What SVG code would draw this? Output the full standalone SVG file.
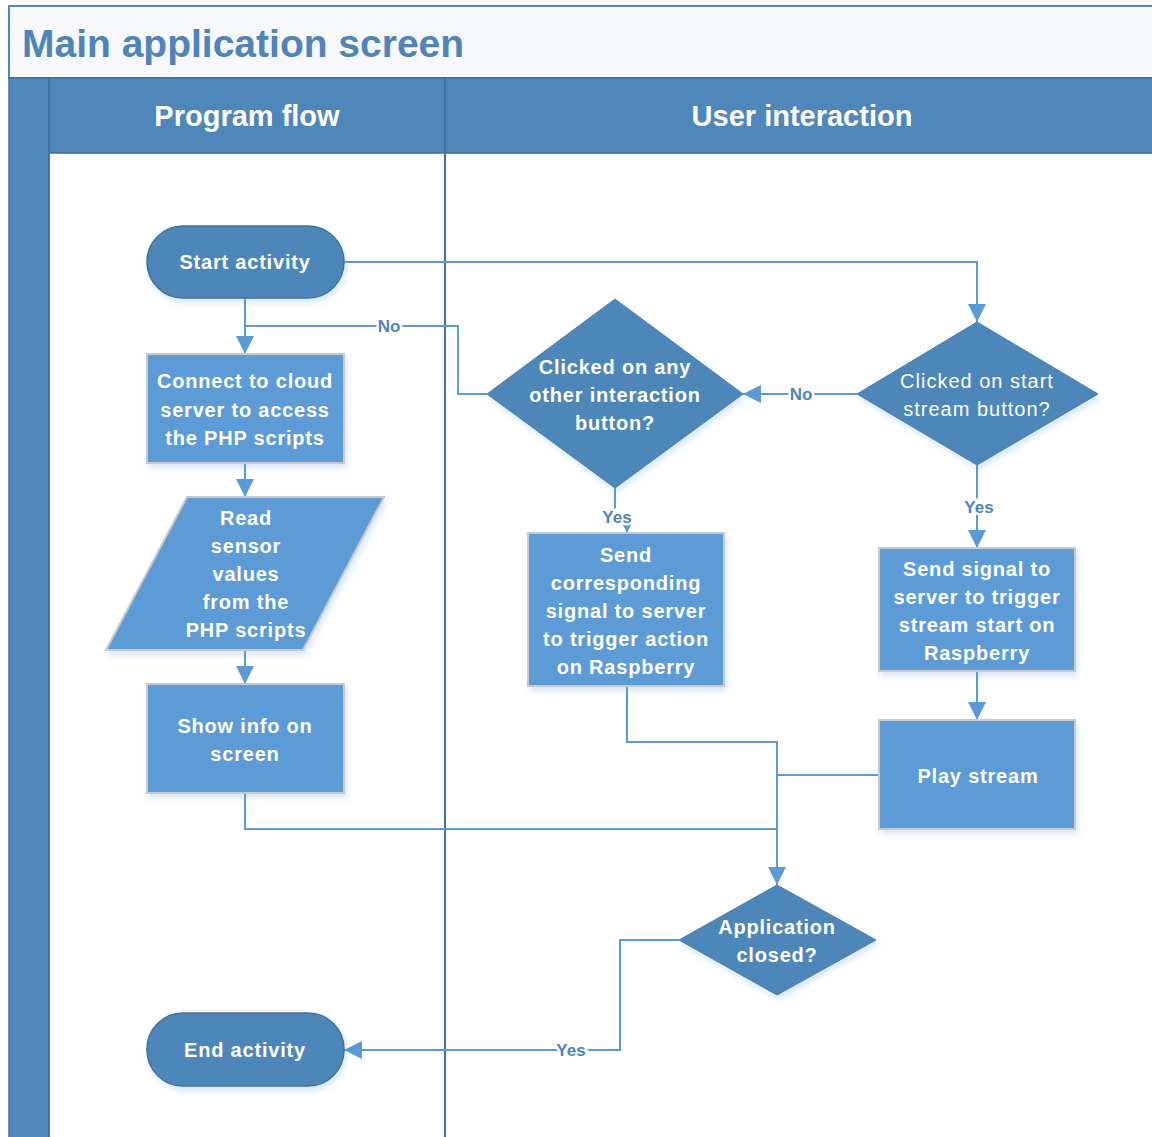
<svg xmlns="http://www.w3.org/2000/svg" width="1152" height="1137" viewBox="0 0 1152 1137">
<defs>
<style>
.lane{fill:#4f87bb;stroke:#41719c;stroke-width:1.5}
.term{fill:#4e86b8;stroke:#41719c;stroke-width:1.5}
.proc{fill:#5b9bd5;stroke:#c9c9c9;stroke-width:2}
.dec{fill:#4e86b8;stroke:#4a7fb0;stroke-width:1}
.t{font-family:"Liberation Sans",Arial,sans-serif;font-weight:bold;fill:#ffffff;text-anchor:middle;dominant-baseline:central;font-size:20px;letter-spacing:0.8px}
.tr{font-weight:normal;letter-spacing:1px}
.hdr{font-family:"Liberation Sans",Arial,sans-serif;font-weight:bold;fill:#ffffff;text-anchor:middle;dominant-baseline:central;font-size:29px}
.lbl{font-family:"Liberation Sans",Arial,sans-serif;font-weight:bold;fill:#4e84b8;text-anchor:middle;dominant-baseline:central;font-size:17px;stroke:#ffffff;stroke-width:5;paint-order:stroke}
.c{fill:none;stroke:#5b9bd5;stroke-width:2}
</style>
<marker id="arr" viewBox="0 0 10 10" refX="10" refY="5" markerWidth="10" markerHeight="10" markerUnits="userSpaceOnUse" orient="auto">
<path d="M0,0 L10,5 L0,10 z" fill="#5b9bd5"/>
</marker>
<marker id="arrBig" viewBox="0 0 10 10" refX="10" refY="5" markerWidth="18" markerHeight="18" markerUnits="userSpaceOnUse" orient="auto">
<path d="M0,0 L10,5 L0,10 z" fill="#5b9bd5"/>
</marker>
<filter id="sh" x="-10%" y="-10%" width="130%" height="130%">
<feDropShadow dx="2" dy="4" stdDeviation="3" flood-color="#5b9bd5" flood-opacity="0.25"/>
</filter>
</defs>
<rect width="1152" height="1137" fill="#ffffff"/>

<g id="pool">
<rect x="9" y="6" width="1150" height="72" fill="#f6f8fc" stroke="#4f87bb" stroke-width="2"/>
<text x="22" y="43" font-family="Liberation Sans, Arial, sans-serif" font-weight="bold" font-size="39" fill="#4e84b8" dominant-baseline="central">Main application screen</text>
<rect class="lane" x="9" y="78" width="40" height="1065"/>
<rect class="lane" x="49" y="78" width="1110" height="75"/>
<line x1="445" y1="78" x2="445" y2="1137" stroke="#41719c" stroke-width="2"/>
<line x1="49" y1="153" x2="49" y2="1137" stroke="#41719c" stroke-width="1.5"/>
<text class="hdr" x="247" y="116">Program flow</text>
<text class="hdr" x="802" y="116">User interaction</text>
</g>

<g id="connectors">
<path class="c" d="M344,262 H977 V322" marker-end="url(#arrBig)"/>
<path class="c" d="M245,298 V354" marker-end="url(#arrBig)"/>
<path class="c" d="M487,394 H458 V326 H245"/>
<path class="c" d="M245,463 V497" marker-end="url(#arrBig)"/>
<path class="c" d="M245,650 V684" marker-end="url(#arrBig)"/>
<path class="c" d="M245,793 V829 H777"/>
<path class="c" d="M857,394 H743" marker-end="url(#arrBig)"/>
<path class="c" d="M977,465 V548" marker-end="url(#arrBig)"/>
<path class="c" d="M615,488 V520 H627 V533" marker-end="url(#arr)"/>
<path class="c" d="M977,671 V720" marker-end="url(#arrBig)"/>
<path class="c" d="M627,686 V742 H777 V885" marker-end="url(#arrBig)"/>
<path class="c" d="M879,775 H777"/>
<path class="c" d="M679,940 H620 V1050 H344" marker-end="url(#arrBig)"/>
<text class="lbl" x="389" y="326">No</text>
<text class="lbl" x="801" y="394">No</text>
<text class="lbl" x="979" y="507">Yes</text>
<text class="lbl" x="617" y="517">Yes</text>
<text class="lbl" x="571" y="1050">Yes</text>
</g>

<g id="start">
<rect class="term" x="147" y="226" width="197" height="72" rx="36" filter="url(#sh)"/>
<text class="t" x="245" y="262">Start activity</text>
</g>

<g id="connect">
<rect class="proc" x="147" y="354" width="197" height="109" filter="url(#sh)"/>
<text class="t" x="245" y="381">Connect to cloud</text>
<text class="t" x="245" y="410">server to access</text>
<text class="t" x="245" y="438">the PHP scripts</text>
</g>

<g id="read">
<polygon class="proc" points="187,497 384,497 303,650 106,650" filter="url(#sh)"/>
<text class="t" x="246" y="518">Read</text>
<text class="t" x="246" y="546">sensor</text>
<text class="t" x="246" y="574">values</text>
<text class="t" x="246" y="602">from the</text>
<text class="t" x="246" y="630">PHP scripts</text>
</g>

<g id="show">
<rect class="proc" x="147" y="684" width="197" height="109" filter="url(#sh)"/>
<text class="t" x="245" y="726">Show info on</text>
<text class="t" x="245" y="754">screen</text>
</g>

<g id="end">
<rect class="term" x="147" y="1013" width="197" height="73" rx="36" filter="url(#sh)"/>
<text class="t" x="245" y="1050">End activity</text>
</g>

<g id="other">
<polygon class="dec" points="615,299 743,394 615,488 487,394" filter="url(#sh)"/>
<text class="t" x="615" y="367">Clicked on any</text>
<text class="t" x="615" y="395">other interaction</text>
<text class="t" x="615" y="423">button?</text>
</g>

<g id="startstream">
<polygon class="dec" points="977,322 1098,394 977,465 857,394" filter="url(#sh)"/>
<text class="t tr" x="977" y="381">Clicked on start</text>
<text class="t tr" x="977" y="409">stream button?</text>
</g>

<g id="sendcorr">
<rect class="proc" x="528" y="533" width="196" height="153" filter="url(#sh)"/>
<text class="t" x="626" y="555">Send</text>
<text class="t" x="626" y="583">corresponding</text>
<text class="t" x="626" y="611">signal to server</text>
<text class="t" x="626" y="639">to trigger action</text>
<text class="t" x="626" y="667">on Raspberry</text>
</g>

<g id="sendsignal">
<rect class="proc" x="879" y="548" width="196" height="123" filter="url(#sh)"/>
<text class="t" x="977" y="569">Send signal to</text>
<text class="t" x="977" y="597">server to trigger</text>
<text class="t" x="977" y="625">stream start on</text>
<text class="t" x="977" y="653">Raspberry</text>
</g>

<g id="play">
<rect class="proc" x="879" y="720" width="196" height="109" filter="url(#sh)"/>
<text class="t" x="978" y="776">Play stream</text>
</g>

<g id="closed">
<polygon class="dec" points="777,885 876,940 777,995 679,940" filter="url(#sh)"/>
<text class="t" x="777" y="927">Application</text>
<text class="t" x="777" y="955">closed?</text>
</g>
</svg>
